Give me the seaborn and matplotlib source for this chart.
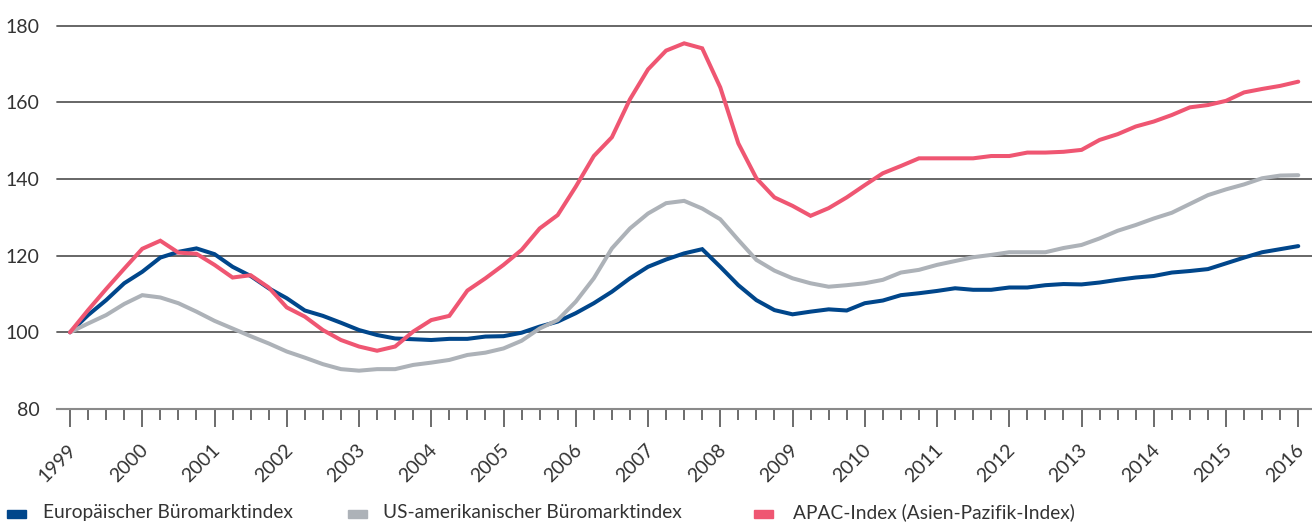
import numpy as np
import pandas as pd
import matplotlib
matplotlib.use("Agg")
import matplotlib.pyplot as plt
from matplotlib.patches import Rectangle
from matplotlib.ticker import MultipleLocator, FixedLocator
import seaborn as sns

# Quarterly index values, Q1 1999 = 100, running to Q1 2016
years = list(range(1999, 2017))
quarters = [1999 + q / 4 for q in range(69)]

europa = [100.0, 104.5, 108.4, 112.8, 115.8, 119.5, 121.0, 121.9, 120.4, 117.1,
          114.7, 111.5, 108.9, 105.7, 104.3, 102.5, 100.6, 99.3, 98.4, 98.2,
          98.0, 98.3, 98.3, 98.9, 99.0, 99.9, 101.5, 102.8, 105.0, 107.6,
          110.6, 114.1, 117.1, 119.0, 120.6, 121.7, 117.1, 112.3, 108.4, 105.8,
          104.7, 105.4, 106.0, 105.7, 107.6, 108.3, 109.7, 110.2, 110.8, 111.5,
          111.1, 111.1, 111.7, 111.7, 112.3, 112.6, 112.5, 113.0, 113.7, 114.3,
          114.7, 115.6, 116.0, 116.5, 118.0, 119.5, 120.9, 121.7, 122.5]

usa = [100.0, 102.3, 104.5, 107.4, 109.7, 109.1, 107.6, 105.4, 103.0, 101.0,
       99.0, 97.1, 95.0, 93.4, 91.7, 90.4, 90.0, 90.4, 90.4, 91.5,
       92.1, 92.8, 94.1, 94.7, 95.8, 97.8, 101.0, 103.2, 108.0, 114.1,
       121.9, 127.1, 131.0, 133.7, 134.3, 132.3, 129.5, 124.1, 118.9, 116.1,
       114.1, 112.8, 111.9, 112.3, 112.8, 113.7, 115.6, 116.3, 117.6, 118.6,
       119.6, 120.2, 120.9, 120.9, 120.9, 122.0, 122.8, 124.5, 126.5, 128.0,
       129.7, 131.2, 133.5, 135.8, 137.3, 138.6, 140.2, 140.9, 141.0]

apac = [100.0, 105.8, 111.3, 116.6, 121.8, 123.9, 120.8, 120.5, 117.6, 114.3,
        114.9, 111.7, 106.5, 104.1, 100.6, 98.0, 96.3, 95.2, 96.3, 100.2,
        103.2, 104.3, 110.9, 114.1, 117.6, 121.5, 127.1, 130.6, 138.0, 146.0,
        150.9, 160.8, 168.6, 173.5, 175.4, 174.1, 163.9, 149.3, 140.2, 135.2,
        133.0, 130.4, 132.4, 135.2, 138.4, 141.5, 143.4, 145.4, 145.4, 145.4,
        145.4, 146.0, 146.0, 146.9, 146.9, 147.1, 147.6, 150.2, 151.7, 153.7,
        155.0, 156.7, 158.7, 159.3, 160.4, 162.6, 163.5, 164.3, 165.4]

labels = ["Europäischer Büromarktindex",
          "US-amerikanischer Büromarktindex",
          "APAC-Index (Asien-Pazifik-Index)"]
colors = ["#00468b", "#adb2b8", "#ef5672"]
y_ticks = [80, 100, 120, 140, 160, 180]

df = pd.concat([
    pd.DataFrame({"Jahr": quarters, "Index": vals, "Serie": name})
    for name, vals in zip(labels, [europa, usa, apac])
], ignore_index=True)

sns.set_theme(style="white")
plt.rcParams["font.family"] = ["Lato", "DejaVu Sans"]

W, H = 1312, 523
fig = plt.figure(figsize=(W / 100, H / 100), dpi=100)
ax = fig.add_axes([57 / W, 1 - 409 / H, 1 - 57 / W, (409 - 25.7) / H])

sns.lineplot(data=df, x="Jahr", y="Index", hue="Serie", hue_order=labels,
             palette=colors, linewidth=2.9, legend=False, ax=ax,
             solid_joinstyle="miter")

ax.set_xlim(1998.82, 2016.19)
ax.set_ylim(80, 180)
ax.set_xlabel("")
ax.set_ylabel("")

# horizontal grid
ax.yaxis.set_major_locator(FixedLocator(y_ticks))
ax.grid(axis="y", color="#5a5a5a", linewidth=1.3)
ax.grid(axis="x", visible=False)
ax.set_axisbelow(True)
for gl in ax.get_ygridlines():
    gl.set_clip_on(False)

for side in ["top", "right", "left"]:
    ax.spines[side].set_visible(False)
ax.spines["bottom"].set_color("#8a8a8a")
ax.spines["bottom"].set_linewidth(1.5)

ax.tick_params(axis="y", length=0, pad=12.5, labelsize=14, labelcolor="#333333")

# year ticks with quarterly minor ticks
ax.xaxis.set_major_locator(FixedLocator(years))
ax.xaxis.set_minor_locator(MultipleLocator(0.25))
ax.set_xticklabels([str(y) for y in years])
ax.tick_params(axis="x", which="major", direction="out", length=13, width=1.1,
               color="#444444", pad=14.4, labelsize=14, labelcolor="#333333",
               bottom=True)
ax.tick_params(axis="x", which="minor", direction="out", length=8, width=1.1,
               color="#444444", bottom=True)
plt.setp(ax.get_xticklabels(), rotation=45, ha="right", va="center",
         rotation_mode="anchor")
# nudge the rotated year labels slightly right of their ticks
from matplotlib.transforms import ScaledTranslation
for lbl in ax.get_xticklabels():
    lbl.set_transform(lbl.get_transform() + ScaledTranslation(3 / 100, 0, fig.dpi_scale_trans))

# legend row
legend_items = [(6.5, 43), (348, 383), (754, 793)]
for (sx, tx), name, col in zip(legend_items, labels, colors):
    fig.patches.append(Rectangle((sx / W, 1 - 518 / H), 19 / W, 8 / H,
                                 transform=fig.transFigure, color=col))
    fig.text(tx / W, 1 - 518 / H, name, fontsize=13.8, color="#333333",
             ha="left", va="baseline")

fig.savefig("out.png", dpi=100)
